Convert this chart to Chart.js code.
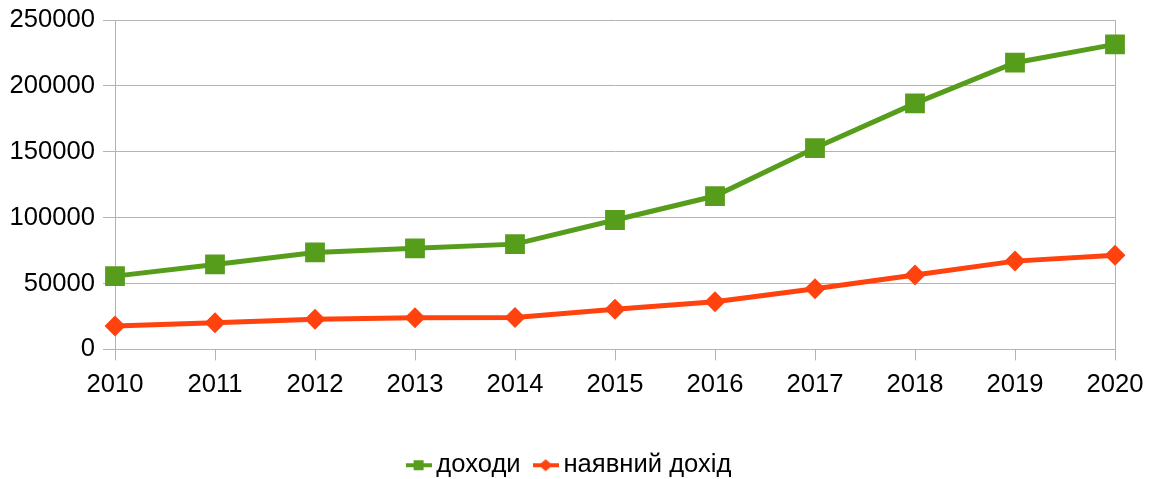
<!DOCTYPE html>
<html>
<head>
<meta charset="utf-8">
<script src="https://cdn.jsdelivr.net/npm/chart.js@4/dist/chart.umd.min.js"></script>
<style>
  html, body { margin: 0; padding: 0; background: #fff; }
  #wrap { width: 1154px; height: 479px; }
</style>
</head>
<body>
<div id="wrap"><canvas id="mainChart" width="1154" height="479"></canvas></div>
<script>
// --- Data ---
const years = ['2010', '2011', '2012', '2013', '2014', '2015', '2016', '2017', '2018', '2019', '2020'];
const incomes = [55600, 64500, 73600, 76700, 79900, 98200, 116400, 152800, 186700, 217600, 231500];
const disposableIncome = [17700, 20200, 22800, 24000, 24300, 30400, 36100, 46000, 56400, 67000, 71400];
const seriesNames = ['доходи', 'наявний дохід'];
const yTicks = [0, 50000, 100000, 150000, 200000, 250000];

const GREEN = '#579d1c';
const RED = '#ff420e';
const GRID = '#b3b3b3';
const FONT = "'Liberation Sans', Arial, sans-serif";
const FS = 25.6;

// legend icons: short line with marker on it
function legendIcon(color, shape) {
    const c = document.createElement('canvas');
    c.width = 26; c.height = 14;
    const g = c.getContext('2d');
    g.fillStyle = color;
    g.fillRect(0, 5, 26, 4);
    if (shape === 'rect') {
        g.fillRect(8, 2, 10, 10);
    } else {
        g.beginPath();
        g.moveTo(13, 1); g.lineTo(20, 7); g.lineTo(13, 13); g.lineTo(6, 7);
        g.closePath(); g.fill();
    }
    return c;
}

const icons = [legendIcon(GREEN, 'rect'), legendIcon(RED, 'diamond')];

const ctxMain = document.getElementById('mainChart').getContext('2d');

new Chart(ctxMain, {
    type: 'line',
    data: {
        labels: years,
        datasets: [
            {
                label: seriesNames[0],
                data: incomes,
                borderColor: GREEN,
                backgroundColor: GREEN,
                borderWidth: 5,
                pointStyle: 'rect',
                pointRadius: 14,
                pointBorderWidth: 0,
                tension: 0
            },
            {
                label: seriesNames[1],
                data: disposableIncome,
                borderColor: RED,
                backgroundColor: RED,
                borderWidth: 5,
                pointStyle: 'rectRot',
                pointRadius: 10.5,
                pointBorderWidth: 0,
                tension: 0
            }
        ]
    },
    options: {
        responsive: false,
        animation: false,
        devicePixelRatio: 1,
        // right padding small so the legend centres like the original
        layout: { padding: { top: 20, left: 0, right: 9, bottom: -9 } },
        plugins: {
            tooltip: { enabled: false },
            legend: {
                position: 'bottom',
                labels: {
                    color: '#000',
                    font: { family: FONT, size: FS },
                    padding: 20,
                    usePointStyle: true,
                    pointStyleWidth: 10,
                    generateLabels: (chart) => chart.data.datasets.map((ds, i) => ({
                        text: ds.label,
                        pointStyle: icons[i],
                        fillStyle: ds.borderColor,
                        strokeStyle: ds.borderColor,
                        lineWidth: 0,
                        fontColor: '#000',
                        datasetIndex: i,
                        hidden: false
                    }))
                }
            }
        },
        scales: {
            x: {
                offset: false,
                afterFit: (scale) => {
                    scale.height = 83;
                    scale.paddingRight = 39;
                },
                grid: {
                    drawOnChartArea: true,
                    color: (c) => (c.index === years.length - 1 ? GRID : 'rgba(0,0,0,0)'),
                    tickColor: GRID,
                    tickLength: 11,
                    lineWidth: 1
                },
                border: { display: true, color: GRID },
                ticks: {
                    color: '#000',
                    font: { family: FONT, size: FS },
                    padding: 9,
                    maxRotation: 0,
                    autoSkip: false
                }
            },
            y: {
                min: 0,
                max: 250000,
                afterFit: (scale) => {
                    scale.width = 115;
                    scale.paddingTop = 0;
                    scale.paddingBottom = 0;
                },
                afterBuildTicks: (scale) => { scale.ticks = yTicks.map(v => ({ value: v })); },
                grid: {
                    color: GRID,
                    tickColor: GRID,
                    tickLength: 12,
                    lineWidth: 1
                },
                border: { display: true, color: GRID },
                ticks: {
                    color: '#000',
                    font: { family: FONT, size: FS },
                    padding: 8,
                    callback: (v) => String(v)
                }
            }
        }
    }
});
</script>
</body>
</html>
